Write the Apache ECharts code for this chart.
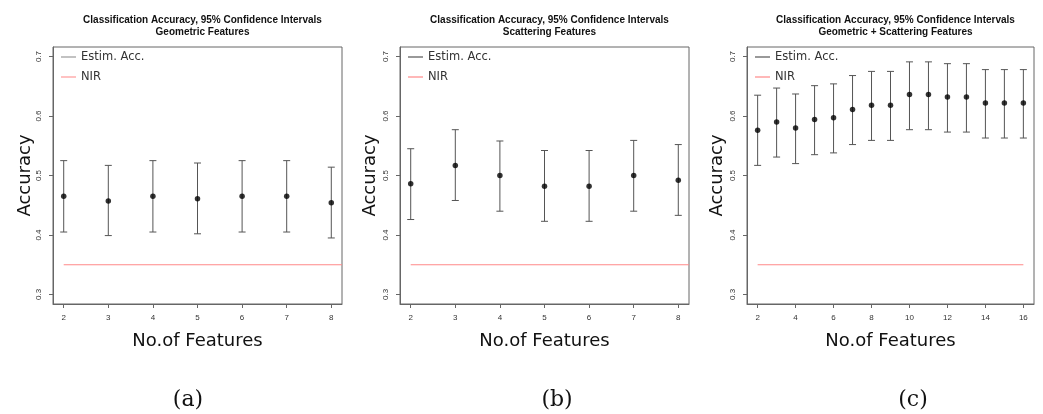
<!DOCTYPE html>
<html>
<head>
<meta charset="utf-8">
<script src="https://cdn.jsdelivr.net/npm/echarts@6/dist/echarts.min.js"></script>
<style>html,body{margin:0;padding:0;background:#fff;}#c{width:1043px;height:414px;}</style>
</head>
<body>
<div id="c"></div>
<script>
// ---- data ----
const titles = [
  'Classification Accuracy, 95% Confidence Intervals\nGeometric Features',
  'Classification Accuracy, 95% Confidence Intervals\nScattering Features',
  'Classification Accuracy, 95% Confidence Intervals\nGeometric + Scattering Features'
];
const captions = ['(a)', '(b)', '(c)'];
const legendNames = ['Estim. Acc.', 'NIR'];

const featA = [2, 3, 4, 5, 6, 7, 8];
const accA = [0.465, 0.457, 0.465, 0.461, 0.465, 0.465, 0.454];
const lowA = [0.405, 0.399, 0.405, 0.402, 0.405, 0.405, 0.395];
const upA  = [0.525, 0.517, 0.525, 0.521, 0.525, 0.525, 0.514];

const featB = [2, 3, 4, 5, 6, 7, 8];
const accB = [0.486, 0.517, 0.500, 0.482, 0.482, 0.500, 0.492];
const lowB = [0.426, 0.458, 0.440, 0.423, 0.423, 0.440, 0.433];
const upB  = [0.545, 0.577, 0.558, 0.542, 0.542, 0.559, 0.552];

const featC = [2, 3, 4, 5, 6, 7, 8, 9, 10, 11, 12, 13, 14, 15, 16];
const accC = [0.576, 0.590, 0.580, 0.594, 0.597, 0.611, 0.618, 0.618, 0.636, 0.636, 0.632, 0.632, 0.622, 0.622, 0.622];
const lowC = [0.517, 0.531, 0.520, 0.535, 0.538, 0.552, 0.559, 0.559, 0.577, 0.577, 0.573, 0.573, 0.563, 0.563, 0.563];
const upC  = [0.635, 0.647, 0.637, 0.651, 0.654, 0.668, 0.675, 0.675, 0.691, 0.691, 0.688, 0.688, 0.678, 0.678, 0.678];

const nirValue = 0.35;

const xTicksA = [2, 3, 4, 5, 6, 7, 8];
const xTicksB = [2, 3, 4, 5, 6, 7, 8];
const xTicksC = [2, 4, 6, 8, 10, 12, 14, 16];
const yTicks = [0.3, 0.4, 0.5, 0.6, 0.7];

// ---- build ----
const panels = [
  {feat: featA, acc: accA, low: lowA, up: upA, ticks: xTicksA, left: 53, width: 289, xmin: 1.76, xmax: 8.24, nirEnd: 8.24, estColor: '#999', nirColor: '#f99', cap: 188, yNameGap: 19},
  {feat: featB, acc: accB, low: lowB, up: upB, ticks: xTicksB, left: 400, width: 289, xmin: 1.76, xmax: 8.24, nirEnd: 8.24, estColor: '#555', nirColor: '#f88', cap: 557, yNameGap: 21},
  {feat: featC, acc: accC, low: lowC, up: upC, ticks: xTicksC, left: 747, width: 287, xmin: 1.44, xmax: 16.56, nirEnd: 16, estColor: '#555', nirColor: '#f88', cap: 913, yNameGap: 21}
];
const gridTop = 47, gridHeight = 257;
const yMin = 0.284, yMax = 0.716;

const option = {
  backgroundColor: '#fff',
  animation: false,
  title: [], grid: [], xAxis: [], yAxis: [], legend: [], series: [], graphic: []
};

panels.forEach((p, i) => {
  option.title.push({
    text: titles[i],
    left: p.left + p.width / 2,
    top: 9,
    textAlign: 'center',
    textStyle: {fontFamily: 'Liberation Sans', fontWeight: 'bold', fontSize: 10, lineHeight: 12, color: '#111'}
  });
  option.grid.push({
    left: p.left, top: gridTop, width: p.width, height: gridHeight,
    show: true, borderColor: '#666', borderWidth: 1, backgroundColor: 'transparent'
  });
  option.xAxis.push({
    type: 'value', gridIndex: i, min: p.xmin, max: p.xmax,
    axisLine: {show: true, onZero: false, lineStyle: {color: '#666'}},
    axisTick: {show: true, customValues: p.ticks, length: 4, lineStyle: {color: '#666'}},
    axisLabel: {customValues: p.ticks, fontSize: 8, color: '#333', margin: 10, fontFamily: 'Liberation Sans'},
    splitLine: {show: false},
    name: 'No.of Features', nameLocation: 'middle', nameGap: 28,
    nameTextStyle: {fontSize: 18, fontFamily: 'DejaVu Sans', color: '#111'}
  });
  option.yAxis.push({
    type: 'value', gridIndex: i, min: yMin, max: yMax,
    axisLine: {show: true, lineStyle: {color: '#666'}},
    axisTick: {show: true, customValues: yTicks, length: 4, lineStyle: {color: '#666'}},
    axisLabel: {customValues: yTicks, fontSize: 8, color: '#333', margin: 10, rotate: 90, fontFamily: 'Liberation Sans',
      formatter: v => String(Math.round(v * 10) / 10)},
    splitLine: {show: false},
    name: 'Accuracy', nameLocation: 'middle', nameGap: p.yNameGap, nameRotate: 90,
    nameTextStyle: {fontSize: 18, fontFamily: 'DejaVu Sans', color: '#111'}
  });
  option.legend.push({
    orient: 'vertical', left: p.left + 3, top: gridTop - 1,
    icon: 'rect', itemWidth: 15, itemHeight: 1.2, itemGap: 8,
    selectedMode: false,
    textStyle: {fontSize: 11.5, fontFamily: 'DejaVu Sans', color: '#333', padding: [0, 0, 0, 0]},
    data: [
      {name: legendNames[0], itemStyle: {color: p.estColor}},
      {name: legendNames[1], itemStyle: {color: p.nirColor}}
    ]
  });
  // error bars
  option.series.push({
    type: 'custom', name: legendNames[0], xAxisIndex: i, yAxisIndex: i,
    data: p.feat.map((x, k) => [x, p.low[k], p.up[k]]),
    encode: {x: 0, y: [1, 2]},
    itemStyle: {color: '#555'},
    renderItem: function (params, api) {
      const x = api.value(0);
      const lo = api.coord([x, api.value(1)]);
      const hi = api.coord([x, api.value(2)]);
      const hw = 3.5;
      const st = {stroke: '#555', lineWidth: 1};
      return {
        type: 'group',
        children: [
          {type: 'line', shape: {x1: lo[0], y1: lo[1], x2: hi[0], y2: hi[1]}, style: st},
          {type: 'line', shape: {x1: lo[0] - hw, y1: lo[1], x2: lo[0] + hw, y2: lo[1]}, style: st},
          {type: 'line', shape: {x1: hi[0] - hw, y1: hi[1], x2: hi[0] + hw, y2: hi[1]}, style: st}
        ]
      };
    }
  });
  // points
  option.series.push({
    type: 'scatter', name: 'points' + i, xAxisIndex: i, yAxisIndex: i,
    data: p.feat.map((x, k) => [x, p.acc[k]]),
    symbol: 'circle', symbolSize: 5.5,
    itemStyle: {color: '#000'}
  });
  // NIR line
  option.series.push({
    type: 'line', name: legendNames[1], xAxisIndex: i, yAxisIndex: i,
    data: [[p.feat[0], nirValue], [p.nirEnd, nirValue]],
    symbol: 'none', lineStyle: {color: '#f88', width: 1.2},
    itemStyle: {color: '#f88'}
  });
  option.graphic.push({
    type: 'text', x: p.cap, y: 400,
    style: {text: captions[i], textAlign: 'center', textVerticalAlign: 'middle',
      font: '22px "DejaVu Serif"', fill: '#111'}
  });
});

const chart = echarts.init(document.getElementById('c'), null, {renderer: 'canvas'});
chart.setOption(option);
</script>
</body>
</html>
